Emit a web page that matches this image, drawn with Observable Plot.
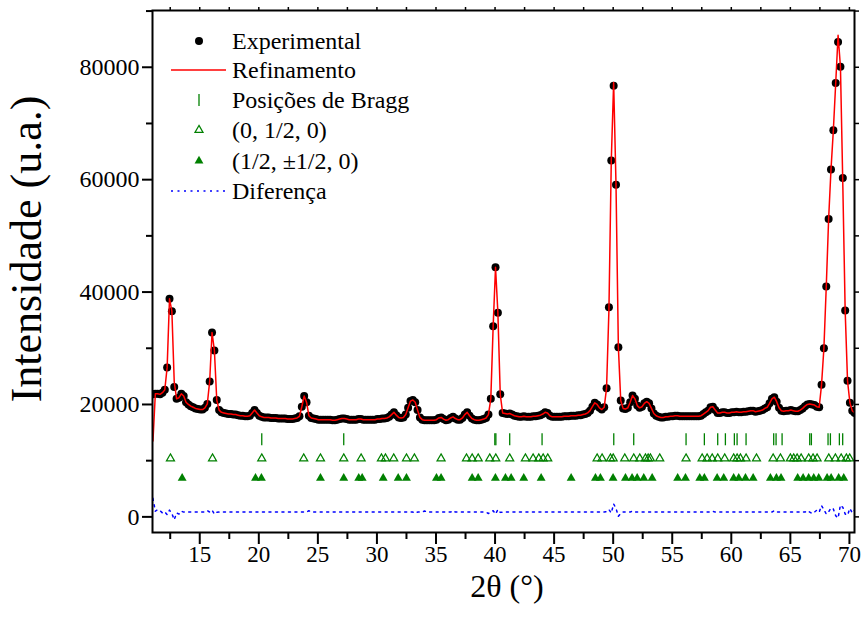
<!DOCTYPE html>
<html>
<head>
<meta charset="utf-8">
<script src="https://cdn.jsdelivr.net/npm/d3@7"></script>
<script src="https://cdn.jsdelivr.net/npm/@observablehq/plot@0.6"></script>
<style>
  body { margin: 0; background: #fff; }
  #wrap { position: relative; width: 863px; height: 625px; }
  #legend { position: absolute; left: 0; top: 0; pointer-events: none; }
</style>
</head>
<body>
<div id="wrap"></div>
<script>
// ---------- DATA ----------
// 2θ sampling grid of the measurement (degrees)
const thetaStart = 11.04;
const thetaStep = 0.2;

// Experimental intensity, in thousands of counts, one value per grid step
const obsK = [
  21.8, 21.9, 21.9, 21.8, 22.1, 22.6, 26.6, 38.8, 36.6, 23.1,
  21.0, 21.2, 21.9, 21.5, 20.4, 20.0, 19.7, 19.5, 19.3, 19.2,
  19.1, 19.1, 19.4, 20.1, 24.1, 32.8, 29.6, 20.8, 19.0, 18.6,
  18.5, 18.4, 18.3, 18.3, 18.2, 18.2, 18.1, 18.0, 18.0, 17.9,
  17.9, 18.0, 18.5, 19.0, 18.5, 18.0, 17.8, 17.7, 17.7, 17.7,
  17.6, 17.6, 17.6, 17.5, 17.5, 17.5, 17.5, 17.4, 17.4, 17.4,
  17.5, 17.6, 17.9, 19.6, 21.5, 20.4, 18.0, 17.6, 17.5, 17.4,
  17.3, 17.3, 17.3, 17.3, 17.3, 17.3, 17.2, 17.2, 17.3, 17.4,
  17.5, 17.5, 17.4, 17.3, 17.3, 17.3, 17.3, 17.4, 17.4, 17.3,
  17.3, 17.3, 17.3, 17.3, 17.3, 17.4, 17.4, 17.5, 17.5, 17.6,
  17.8, 18.2, 18.6, 18.1, 17.7, 17.6, 17.7, 18.2, 19.4, 20.6,
  20.8, 20.4, 19.0, 17.7, 17.3, 17.2, 17.2, 17.2, 17.2, 17.2,
  17.3, 17.6, 17.7, 17.4, 17.2, 17.3, 17.6, 17.8, 17.5, 17.3,
  17.3, 17.6, 18.2, 18.6, 18.0, 17.5, 17.3, 17.2, 17.2, 17.3,
  17.4, 17.6, 18.2, 21.0, 33.9, 44.4, 36.3, 21.8, 18.5, 18.4,
  18.3, 18.4, 18.2, 18.0, 17.9, 17.8, 17.8, 17.9, 17.8, 17.8,
  17.8, 17.9, 17.9, 18.0, 18.1, 18.3, 18.6, 18.5, 18.0, 17.8,
  17.8, 17.8, 17.8, 17.8, 17.9, 17.9, 17.9, 18.0, 18.0, 18.0,
  18.1, 18.1, 18.2, 18.3, 18.5, 18.9, 19.6, 20.3, 20.0, 19.4,
  19.1, 19.5, 22.9, 37.3, 63.4, 76.7, 59.1, 30.2, 20.7, 19.3,
  19.2, 19.4, 20.4, 21.6, 21.0, 19.8, 19.4, 19.6, 20.2, 20.5,
  20.2, 19.3, 18.4, 18.0, 17.8, 17.7, 17.7, 17.8, 17.8, 17.9,
  17.9, 18.0, 18.0, 17.9, 17.9, 17.9, 17.9, 17.9, 17.9, 17.9,
  17.9, 17.9, 18.0, 18.3, 18.6, 18.9, 19.5, 19.6, 19.0, 18.5,
  18.5, 18.6, 18.6, 18.5, 18.5, 18.6, 18.6, 18.7, 18.6, 18.6,
  18.7, 18.7, 18.8, 18.9, 18.9, 18.7, 18.8, 18.9, 19.0, 19.3,
  19.5, 20.2, 21.0, 21.3, 20.5, 19.4, 18.9, 18.8, 18.9, 18.9,
  19.0, 18.9, 18.8, 18.8, 19.0, 19.3, 19.7, 20.0, 20.1, 20.0,
  19.9, 19.6, 19.5, 23.5, 30.0, 41.0, 53.0, 61.8, 68.8, 77.2,
  84.5, 80.1, 60.3, 36.7, 24.2, 20.3, 18.9, 18.5
];

// Refinement (calculated) profile: where it departs from the experimental points
const calcFixTheta = [11.04, 12.84, 49.64, 50.04, 69.04, 69.44];
const calcFixK     = [13.5,  24.0,  36.8,  77.3,  85.7,  59.2];

// Difference curve (counts): baseline level and the points that depart from it
const diffBase = 850;
const diffFixTheta = [11.04, 11.24, 11.44, 11.64, 11.84, 12.04, 12.24, 12.44, 12.64, 12.84,
  13.04, 13.24, 13.44, 15.64, 16.04, 16.24, 16.44, 24.24, 33.24, 34.04,
  36.44, 39.44, 39.84, 40.04, 40.24, 40.44, 49.44, 49.64, 49.84, 50.04,
  50.24, 50.44, 50.64, 51.64, 58.44, 63.64, 66.44, 66.84, 67.24, 67.64,
  67.84, 68.04, 68.24, 68.44, 68.64, 68.84, 69.04, 69.24, 69.44, 69.64,
  69.84, 70.04, 70.24, 70.44];
const diffFixVal = [3300, 1000, 1300, 1100, 700, 900, 400, 1200, 600, -500,
  700, 500, 1000, 1100, 1200, 500, 800, 1100, 650, 1050,
  1100, 600, 1100, 500, 1300, 800, 950, 1300, 700, 2300,
  1500, 100, 650, 1050, 1000, 1100, 1100, 600, 1200, 2000,
  1300, 500, 900, 1600, 1400, 200, -200, 2100, 1700, 500,
  300, 1500, 700, 1200];

// Bragg positions (2θ, degrees)
const braggPos = [20.25, 27.19, 39.98, 40.07, 41.24, 43.98, 50.05, 51.74, 56.17, 57.72,
  58.85, 59.50, 60.26, 60.49, 61.25, 63.59, 63.79, 64.30, 66.64, 66.78,
  68.19, 68.39, 69.15, 69.43];
// Magnetic reflections, propagation vector (0, 1/2, 0)
const openTri = [12.52, 16.08, 20.25, 23.80, 25.22, 27.19, 28.66, 30.38, 30.72, 31.42,
  32.50, 33.17, 35.43, 37.58, 38.06, 38.57, 39.55, 40.06, 41.24, 42.57,
  43.22, 43.70, 44.07, 44.46, 48.64, 49.06, 49.77, 50.00, 50.98, 51.74,
  52.25, 52.73, 52.96, 53.15, 53.94, 56.17, 57.53, 57.95, 58.38, 58.85,
  59.44, 60.20, 60.49, 60.77, 61.25, 62.13, 63.54, 64.16, 65.00, 65.28,
  65.57, 65.91, 66.55, 66.92, 67.26, 68.25, 68.81, 69.30, 69.74, 70.02];
// Magnetic reflections, propagation vector (1/2, ±1/2, 0)
const filledTri = [13.51, 19.72, 20.22, 25.22, 27.19, 28.46, 28.75, 30.53, 31.80, 32.50,
  35.04, 35.43, 38.06, 38.57, 40.03, 40.88, 41.36, 42.43, 43.90, 46.44,
  48.50, 48.92, 49.99, 51.04, 51.60, 52.03, 52.59, 53.30, 55.46, 56.12,
  57.33, 57.72, 58.80, 59.36, 60.20, 60.63, 61.20, 61.85, 63.31, 63.82,
  64.21, 65.62, 66.08, 66.55, 66.98, 67.40, 68.11, 68.45, 69.09, 69.52];

// Intensity levels (counts) at which the reflection markers are plotted
const braggLevels = [12650, 14790];
const openLevel = 10380;
const filledLevel = 6890;

// Axis ticks and labels
const xMajor = [15, 20, 25, 30, 35, 40, 45, 50, 55, 60, 65, 70];
const xMinor = [12.5, 17.5, 22.5, 27.5, 32.5, 37.5, 42.5, 47.5, 52.5, 57.5, 62.5, 67.5];
const yMajor = [0, 20000, 40000, 60000, 80000];
const yMinor = [10000, 30000, 50000, 70000, 90000];
const xLabel = "2θ (°)";
const yLabel = "Intensidade (u.a.)";
const legendLabels = ["Experimental", "Refinamento", "Posições de Bragg", "(0, 1/2, 0)", "(1/2, ±1/2, 0)", "Diferença"];

// ---------- TABLES ----------
const theta = obsK.map((_, i) => +(thetaStart + i * thetaStep).toFixed(2));
const obs = theta.map((t, i) => ({t, y: obsK[i] * 1000}));
const calcMap = new Map(calcFixTheta.map((t, i) => [t, calcFixK[i] * 1000]));
const calc = theta.map((t, i) => ({t, y: calcMap.has(t) ? calcMap.get(t) : obsK[i] * 1000}));
const diffMap = new Map(diffFixTheta.map((t, i) => [t, diffFixVal[i]]));
const diff = theta.map(t => ({t, y: diffMap.has(t) ? diffMap.get(t) : diffBase}));

const GREEN = "#008000";
const FONT = "'Liberation Serif', 'Times New Roman', serif";

const chart = Plot.plot({
  width: 863,
  height: 625,
  marginLeft: 152,
  marginRight: 9,
  marginTop: 10,
  marginBottom: 93,
  style: {fontFamily: FONT, background: "white", color: "black", overflow: "visible"},
  x: {domain: [11.0, 70.43]},
  y: {domain: [-2780, 90100]},
  marks: [
    Plot.line(diff, {x: "t", y: "y", stroke: "#0000ff", strokeWidth: 1.5, strokeDasharray: "2,4.5", clip: true}),
    Plot.ruleX(braggPos, {x: d => d, y1: braggLevels[0], y2: braggLevels[1], stroke: GREEN, strokeWidth: 1.3}),
    Plot.dot(openTri, {x: d => d, y: openLevel, symbol: "triangle", r: 3, stroke: GREEN, fill: "none", strokeWidth: 1.2}),
    Plot.dot(filledTri, {x: d => d, y: filledLevel, symbol: "triangle", r: 3.3, fill: GREEN, stroke: "none"}),
    Plot.dot(obs, {x: "t", y: "y", r: 4, fill: "black", clip: true}),
    Plot.line(calc, {x: "t", y: "y", stroke: "#ff0000", strokeWidth: 1.5, clip: true}),
    Plot.frame({stroke: "black", strokeWidth: 2}),
    // bottom axis
    Plot.axisX({anchor: "bottom", ticks: xMajor, tickSize: 12, tickPadding: 1, strokeWidth: 2,
      tickFormat: d => String(d), fontSize: 23, label: null}),
    Plot.axisX({anchor: "bottom", ticks: xMinor, tickSize: 7, strokeWidth: 2,
      tickFormat: () => "", label: null}),
    // top mirror ticks
    Plot.axisX({anchor: "top", ticks: xMajor.concat(xMinor), tickSize: 4, strokeWidth: 1.5,
      tickFormat: () => "", label: null}),
    // left axis
    Plot.axisY({anchor: "left", ticks: yMajor, tickSize: 10, tickPadding: 3, strokeWidth: 2,
      tickFormat: d3.format("d"), fontSize: 24, label: null}),
    Plot.axisY({anchor: "left", ticks: yMinor, tickSize: 6, strokeWidth: 2,
      tickFormat: () => "", label: null}),
    // right mirror ticks
    Plot.axisY({anchor: "right", ticks: yMajor.concat(yMinor), tickSize: 4, strokeWidth: 1.5,
      tickFormat: () => "", label: null})
  ]
});

const wrap = document.getElementById("wrap");
wrap.appendChild(chart);

// ---------- OVERLAY: axis titles and legend ----------
const leg = d3.select(wrap).append("svg")
  .attr("id", "legend")
  .attr("width", 863).attr("height", 625)
  .style("font-family", FONT);

leg.append("text")
  .attr("x", 507).attr("y", 597)
  .attr("text-anchor", "middle")
  .attr("font-size", 32).attr("fill", "black")
  .text(xLabel);

leg.append("text")
  .attr("transform", "translate(41,249) rotate(-90)")
  .attr("text-anchor", "middle")
  .attr("font-size", 44).attr("fill", "black")
  .text(yLabel);

const rowY = [41, 70, 100, 130, 161, 191];
const symX = 199, lineX1 = 171, lineX2 = 226, textX = 232;

leg.append("circle").attr("cx", symX).attr("cy", rowY[0]).attr("r", 4).attr("fill", "black");
leg.append("line").attr("x1", lineX1).attr("x2", lineX2).attr("y1", rowY[1]).attr("y2", rowY[1])
  .attr("stroke", "#ff0000").attr("stroke-width", 1.5);
leg.append("line").attr("x1", symX).attr("x2", symX).attr("y1", rowY[2] - 6).attr("y2", rowY[2] + 6)
  .attr("stroke", GREEN).attr("stroke-width", 1.3);
leg.append("path").attr("d", d3.symbol(d3.symbolTriangle, Math.PI * 9)())
  .attr("transform", `translate(${symX},${rowY[3]})`)
  .attr("fill", "none").attr("stroke", GREEN).attr("stroke-width", 1.2);
leg.append("path").attr("d", d3.symbol(d3.symbolTriangle, Math.PI * 3.3 * 3.3)())
  .attr("transform", `translate(${symX},${rowY[4]})`)
  .attr("fill", GREEN);
leg.append("line").attr("x1", lineX1).attr("x2", lineX2).attr("y1", rowY[5]).attr("y2", rowY[5])
  .attr("stroke", "#0000ff").attr("stroke-width", 1.5).attr("stroke-dasharray", "2,4.5");

leg.selectAll("text.lab").data(legendLabels).join("text")
  .attr("class", "lab")
  .attr("x", textX).attr("y", (d, i) => rowY[i]).attr("dy", "0.35em")
  .attr("font-size", 24).attr("fill", "black")
  .text(d => d);
</script>
</body>
</html>
